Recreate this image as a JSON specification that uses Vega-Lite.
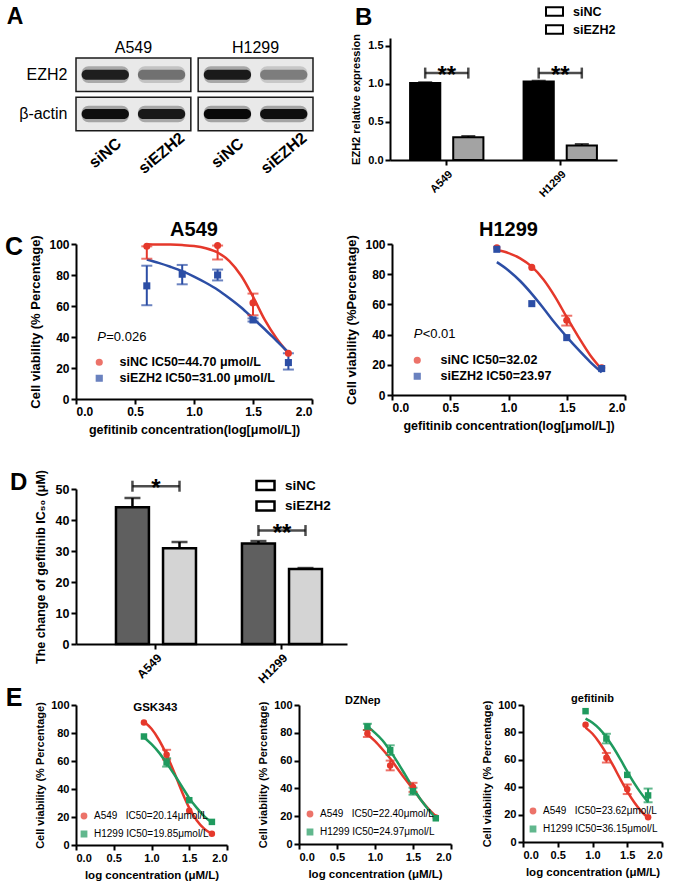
{
"$schema":"https://vega.github.io/schema/vega-lite/v6.json",
"background":"white",
"padding":{"left":5,"top":2,"right":2,"bottom":0},
"config":{
 "font":"Liberation Sans",
 "view":{"stroke":null},
 "axis":{"domainColor":"#000","domainWidth":2,"tickColor":"#000","tickWidth":2,"tickSize":5,"labelColor":"#000","labelFontWeight":"bold","titleColor":"#000","titleFontWeight":"bold","grid":false,"labelOverlap":false},
 "legend":{"labelColor":"#000","labelLimit":400},
 "title":{"color":"#000"}
},
"datasets":{
 "blot":[
  {"cell":"A549","lane":"siNC","protein":"EZH2","intensity":0.92},
  {"cell":"A549","lane":"siEZH2","protein":"EZH2","intensity":0.5},
  {"cell":"H1299","lane":"siNC","protein":"EZH2","intensity":0.94},
  {"cell":"H1299","lane":"siEZH2","protein":"EZH2","intensity":0.45},
  {"cell":"A549","lane":"siNC","protein":"β-actin","intensity":0.98},
  {"cell":"A549","lane":"siEZH2","protein":"β-actin","intensity":0.95},
  {"cell":"H1299","lane":"siNC","protein":"β-actin","intensity":1.0},
  {"cell":"H1299","lane":"siEZH2","protein":"β-actin","intensity":0.98}
 ],
 "bexp":[
  {"cell":"A549","group":"siNC","value":1.01,"hi":1.02},
  {"cell":"A549","group":"siEZH2","value":0.30,"hi":0.315},
  {"cell":"H1299","group":"siNC","value":1.03,"hi":1.04},
  {"cell":"H1299","group":"siEZH2","value":0.19,"hi":0.21}
 ],
 "bsig":[
  {"cell":"A549","group":"siNC","level":1.14,"star":"**"},
  {"cell":"A549","group":"siEZH2","level":1.14,"star":"**"},
  {"cell":"H1299","group":"siNC","level":1.14,"star":"**"},
  {"cell":"H1299","group":"siEZH2","level":1.14,"star":"**"}
 ],
 "dbar":[
  {"cell":"A549","group":"siNC","value":44.1,"hi":47.1},
  {"cell":"A549","group":"siEZH2","value":30.9,"hi":32.9},
  {"cell":"H1299","group":"siNC","value":32.4,"hi":33.2},
  {"cell":"H1299","group":"siEZH2","value":24.2,"hi":24.5}
 ],
 "dsig":[
  {"cell":"A549","group":"siNC","level":50.9,"star":"*"},
  {"cell":"A549","group":"siEZH2","level":50.9,"star":"*"},
  {"cell":"H1299","group":"siNC","level":36.6,"star":"**"},
  {"cell":"H1299","group":"siEZH2","level":36.6,"star":"**"}
 ],
 "points":[
  {"panel":"C1","series":"siNC IC50=44.70 μmol/L","x":0.6,"y":98.5,"lo":90.5,"hi":98.5},
  {"panel":"C1","series":"siNC IC50=44.70 μmol/L","x":1.2,"y":99,"lo":90,"hi":99},
  {"panel":"C1","series":"siNC IC50=44.70 μmol/L","x":1.5,"y":62,"lo":54,"hi":68},
  {"panel":"C1","series":"siNC IC50=44.70 μmol/L","x":1.8,"y":29.5},
  {"panel":"C1","series":"siEZH2 IC50=31.00 μmol/L","x":0.6,"y":73,"lo":60.5,"hi":86},
  {"panel":"C1","series":"siEZH2 IC50=31.00 μmol/L","x":0.9,"y":80.5,"lo":74,"hi":86.5},
  {"panel":"C1","series":"siEZH2 IC50=31.00 μmol/L","x":1.2,"y":80,"lo":76.5,"hi":83.5},
  {"panel":"C1","series":"siEZH2 IC50=31.00 μmol/L","x":1.5,"y":51,"lo":50,"hi":52},
  {"panel":"C1","series":"siEZH2 IC50=31.00 μmol/L","x":1.8,"y":23.5,"lo":19,"hi":29.5},
  {"panel":"C2","series":"siNC IC50=32.02","x":0.9,"y":97.5},
  {"panel":"C2","series":"siNC IC50=32.02","x":1.2,"y":84.5},
  {"panel":"C2","series":"siNC IC50=32.02","x":1.5,"y":49.5,"lo":46,"hi":52.5},
  {"panel":"C2","series":"siNC IC50=32.02","x":1.8,"y":18},
  {"panel":"C2","series":"siEZH2 IC50=23.97","x":0.9,"y":96.5},
  {"panel":"C2","series":"siEZH2 IC50=23.97","x":1.2,"y":60.5},
  {"panel":"C2","series":"siEZH2 IC50=23.97","x":1.5,"y":38},
  {"panel":"C2","series":"siEZH2 IC50=23.97","x":1.8,"y":17.5},
  {"panel":"E1","series":"A549\u00a0\u00a0\u00a0IC50=20.14μmol/L","x":0.9,"y":87.5},
  {"panel":"E1","series":"A549\u00a0\u00a0\u00a0IC50=20.14μmol/L","x":1.2,"y":64.5,"lo":61,"hi":68},
  {"panel":"E1","series":"A549\u00a0\u00a0\u00a0IC50=20.14μmol/L","x":1.5,"y":24.5},
  {"panel":"E1","series":"A549\u00a0\u00a0\u00a0IC50=20.14μmol/L","x":1.8,"y":8},
  {"panel":"E1","series":"H1299 IC50=19.85μmol/L","x":0.9,"y":77.5},
  {"panel":"E1","series":"H1299 IC50=19.85μmol/L","x":1.2,"y":59,"lo":56,"hi":62},
  {"panel":"E1","series":"H1299 IC50=19.85μmol/L","x":1.5,"y":32},
  {"panel":"E1","series":"H1299 IC50=19.85μmol/L","x":1.8,"y":16.5},
  {"panel":"E2","series":"A549\u00a0\u00a0\u00a0IC50=22.40μmol/L","x":0.9,"y":79.5,"lo":77,"hi":82},
  {"panel":"E2","series":"A549\u00a0\u00a0\u00a0IC50=22.40μmol/L","x":1.2,"y":56.5,"lo":53,"hi":60},
  {"panel":"E2","series":"A549\u00a0\u00a0\u00a0IC50=22.40μmol/L","x":1.5,"y":41,"lo":37.5,"hi":44},
  {"panel":"E2","series":"A549\u00a0\u00a0\u00a0IC50=22.40μmol/L","x":1.8,"y":19},
  {"panel":"E2","series":"H1299 IC50=24.97μmol/L","x":0.9,"y":84.5,"lo":82,"hi":86.5},
  {"panel":"E2","series":"H1299 IC50=24.97μmol/L","x":1.2,"y":67.5,"lo":64,"hi":71},
  {"panel":"E2","series":"H1299 IC50=24.97μmol/L","x":1.5,"y":38,"lo":35.5,"hi":40.5},
  {"panel":"E2","series":"H1299 IC50=24.97μmol/L","x":1.8,"y":18.5},
  {"panel":"E3","series":"A549\u00a0\u00a0\u00a0IC50=23.62μmol/L","x":0.9,"y":85.5},
  {"panel":"E3","series":"A549\u00a0\u00a0\u00a0IC50=23.62μmol/L","x":1.2,"y":61.5,"lo":58,"hi":65},
  {"panel":"E3","series":"A549\u00a0\u00a0\u00a0IC50=23.62μmol/L","x":1.5,"y":38.5,"lo":35,"hi":42},
  {"panel":"E3","series":"A549\u00a0\u00a0\u00a0IC50=23.62μmol/L","x":1.8,"y":18},
  {"panel":"E3","series":"H1299 IC50=36.15μmol/L","x":0.9,"y":95.5},
  {"panel":"E3","series":"H1299 IC50=36.15μmol/L","x":1.2,"y":75.5,"lo":72,"hi":79},
  {"panel":"E3","series":"H1299 IC50=36.15μmol/L","x":1.5,"y":49},
  {"panel":"E3","series":"H1299 IC50=36.15μmol/L","x":1.8,"y":34,"lo":29,"hi":39}
 ],
 "curves":[
  {"panel":"C1","series":"siNC IC50=44.70 μmol/L","x":0.6,"y":99.8},
  {"panel":"C1","series":"siNC IC50=44.70 μmol/L","x":0.7,"y":99.7},
  {"panel":"C1","series":"siNC IC50=44.70 μmol/L","x":0.8,"y":99.6},
  {"panel":"C1","series":"siNC IC50=44.70 μmol/L","x":0.9,"y":99.3},
  {"panel":"C1","series":"siNC IC50=44.70 μmol/L","x":1.0,"y":98.7},
  {"panel":"C1","series":"siNC IC50=44.70 μmol/L","x":1.1,"y":97.3},
  {"panel":"C1","series":"siNC IC50=44.70 μmol/L","x":1.2,"y":94.5},
  {"panel":"C1","series":"siNC IC50=44.70 μmol/L","x":1.3,"y":89},
  {"panel":"C1","series":"siNC IC50=44.70 μmol/L","x":1.4,"y":79.5},
  {"panel":"C1","series":"siNC IC50=44.70 μmol/L","x":1.5,"y":66},
  {"panel":"C1","series":"siNC IC50=44.70 μmol/L","x":1.6,"y":51},
  {"panel":"C1","series":"siNC IC50=44.70 μmol/L","x":1.7,"y":39},
  {"panel":"C1","series":"siNC IC50=44.70 μmol/L","x":1.8,"y":29.5},
  {"panel":"C1","series":"siEZH2 IC50=31.00 μmol/L","x":0.6,"y":90},
  {"panel":"C1","series":"siEZH2 IC50=31.00 μmol/L","x":0.7,"y":87.8},
  {"panel":"C1","series":"siEZH2 IC50=31.00 μmol/L","x":0.8,"y":85.3},
  {"panel":"C1","series":"siEZH2 IC50=31.00 μmol/L","x":0.9,"y":82.5},
  {"panel":"C1","series":"siEZH2 IC50=31.00 μmol/L","x":1.0,"y":79},
  {"panel":"C1","series":"siEZH2 IC50=31.00 μmol/L","x":1.1,"y":75},
  {"panel":"C1","series":"siEZH2 IC50=31.00 μmol/L","x":1.2,"y":70.5},
  {"panel":"C1","series":"siEZH2 IC50=31.00 μmol/L","x":1.3,"y":65},
  {"panel":"C1","series":"siEZH2 IC50=31.00 μmol/L","x":1.4,"y":59},
  {"panel":"C1","series":"siEZH2 IC50=31.00 μmol/L","x":1.5,"y":52},
  {"panel":"C1","series":"siEZH2 IC50=31.00 μmol/L","x":1.6,"y":45},
  {"panel":"C1","series":"siEZH2 IC50=31.00 μmol/L","x":1.7,"y":37.5},
  {"panel":"C1","series":"siEZH2 IC50=31.00 μmol/L","x":1.8,"y":30},
  {"panel":"C2","series":"siNC IC50=32.02","x":0.9,"y":96},
  {"panel":"C2","series":"siNC IC50=32.02","x":1.0,"y":94},
  {"panel":"C2","series":"siNC IC50=32.02","x":1.1,"y":90.5},
  {"panel":"C2","series":"siNC IC50=32.02","x":1.2,"y":85},
  {"panel":"C2","series":"siNC IC50=32.02","x":1.3,"y":76.5},
  {"panel":"C2","series":"siNC IC50=32.02","x":1.4,"y":65},
  {"panel":"C2","series":"siNC IC50=32.02","x":1.5,"y":51.5},
  {"panel":"C2","series":"siNC IC50=32.02","x":1.6,"y":38.5},
  {"panel":"C2","series":"siNC IC50=32.02","x":1.7,"y":26.5},
  {"panel":"C2","series":"siNC IC50=32.02","x":1.8,"y":17},
  {"panel":"C2","series":"siEZH2 IC50=23.97","x":0.9,"y":88},
  {"panel":"C2","series":"siEZH2 IC50=23.97","x":1.0,"y":82.5},
  {"panel":"C2","series":"siEZH2 IC50=23.97","x":1.1,"y":75.5},
  {"panel":"C2","series":"siEZH2 IC50=23.97","x":1.2,"y":67},
  {"panel":"C2","series":"siEZH2 IC50=23.97","x":1.3,"y":57.5},
  {"panel":"C2","series":"siEZH2 IC50=23.97","x":1.4,"y":47.5},
  {"panel":"C2","series":"siEZH2 IC50=23.97","x":1.5,"y":38.5},
  {"panel":"C2","series":"siEZH2 IC50=23.97","x":1.6,"y":30},
  {"panel":"C2","series":"siEZH2 IC50=23.97","x":1.7,"y":22},
  {"panel":"C2","series":"siEZH2 IC50=23.97","x":1.8,"y":15},
  {"panel":"E1","series":"A549\u00a0\u00a0\u00a0IC50=20.14μmol/L","x":0.9,"y":88},
  {"panel":"E1","series":"A549\u00a0\u00a0\u00a0IC50=20.14μmol/L","x":1.0,"y":83},
  {"panel":"E1","series":"A549\u00a0\u00a0\u00a0IC50=20.14μmol/L","x":1.1,"y":75},
  {"panel":"E1","series":"A549\u00a0\u00a0\u00a0IC50=20.14μmol/L","x":1.2,"y":64.5},
  {"panel":"E1","series":"A549\u00a0\u00a0\u00a0IC50=20.14μmol/L","x":1.3,"y":52},
  {"panel":"E1","series":"A549\u00a0\u00a0\u00a0IC50=20.14μmol/L","x":1.4,"y":38.5},
  {"panel":"E1","series":"A549\u00a0\u00a0\u00a0IC50=20.14μmol/L","x":1.5,"y":26.5},
  {"panel":"E1","series":"A549\u00a0\u00a0\u00a0IC50=20.14μmol/L","x":1.6,"y":17.5},
  {"panel":"E1","series":"A549\u00a0\u00a0\u00a0IC50=20.14μmol/L","x":1.7,"y":11.5},
  {"panel":"E1","series":"A549\u00a0\u00a0\u00a0IC50=20.14μmol/L","x":1.8,"y":8},
  {"panel":"E1","series":"H1299 IC50=19.85μmol/L","x":0.9,"y":77},
  {"panel":"E1","series":"H1299 IC50=19.85μmol/L","x":1.0,"y":72},
  {"panel":"E1","series":"H1299 IC50=19.85μmol/L","x":1.1,"y":66},
  {"panel":"E1","series":"H1299 IC50=19.85μmol/L","x":1.2,"y":58.5},
  {"panel":"E1","series":"H1299 IC50=19.85μmol/L","x":1.3,"y":50.5},
  {"panel":"E1","series":"H1299 IC50=19.85μmol/L","x":1.4,"y":42},
  {"panel":"E1","series":"H1299 IC50=19.85μmol/L","x":1.5,"y":33.5},
  {"panel":"E1","series":"H1299 IC50=19.85μmol/L","x":1.6,"y":26.5},
  {"panel":"E1","series":"H1299 IC50=19.85μmol/L","x":1.7,"y":20.5},
  {"panel":"E1","series":"H1299 IC50=19.85μmol/L","x":1.8,"y":16},
  {"panel":"E2","series":"A549\u00a0\u00a0\u00a0IC50=22.40μmol/L","x":0.9,"y":79},
  {"panel":"E2","series":"A549\u00a0\u00a0\u00a0IC50=22.40μmol/L","x":1.0,"y":74},
  {"panel":"E2","series":"A549\u00a0\u00a0\u00a0IC50=22.40μmol/L","x":1.1,"y":68},
  {"panel":"E2","series":"A549\u00a0\u00a0\u00a0IC50=22.40μmol/L","x":1.2,"y":61.5},
  {"panel":"E2","series":"A549\u00a0\u00a0\u00a0IC50=22.40μmol/L","x":1.3,"y":54},
  {"panel":"E2","series":"A549\u00a0\u00a0\u00a0IC50=22.40μmol/L","x":1.4,"y":46.5},
  {"panel":"E2","series":"A549\u00a0\u00a0\u00a0IC50=22.40μmol/L","x":1.5,"y":39.5},
  {"panel":"E2","series":"A549\u00a0\u00a0\u00a0IC50=22.40μmol/L","x":1.6,"y":32},
  {"panel":"E2","series":"A549\u00a0\u00a0\u00a0IC50=22.40μmol/L","x":1.7,"y":25.5},
  {"panel":"E2","series":"A549\u00a0\u00a0\u00a0IC50=22.40μmol/L","x":1.8,"y":20},
  {"panel":"E2","series":"H1299 IC50=24.97μmol/L","x":0.9,"y":84.5},
  {"panel":"E2","series":"H1299 IC50=24.97μmol/L","x":1.0,"y":80},
  {"panel":"E2","series":"H1299 IC50=24.97μmol/L","x":1.1,"y":74.5},
  {"panel":"E2","series":"H1299 IC50=24.97μmol/L","x":1.2,"y":67},
  {"panel":"E2","series":"H1299 IC50=24.97μmol/L","x":1.3,"y":58.5},
  {"panel":"E2","series":"H1299 IC50=24.97μmol/L","x":1.4,"y":49.5},
  {"panel":"E2","series":"H1299 IC50=24.97μmol/L","x":1.5,"y":40.5},
  {"panel":"E2","series":"H1299 IC50=24.97μmol/L","x":1.6,"y":32},
  {"panel":"E2","series":"H1299 IC50=24.97μmol/L","x":1.7,"y":25},
  {"panel":"E2","series":"H1299 IC50=24.97μmol/L","x":1.8,"y":18.5},
  {"panel":"E3","series":"A549\u00a0\u00a0\u00a0IC50=23.62μmol/L","x":0.9,"y":83.5},
  {"panel":"E3","series":"A549\u00a0\u00a0\u00a0IC50=23.62μmol/L","x":1.0,"y":79},
  {"panel":"E3","series":"A549\u00a0\u00a0\u00a0IC50=23.62μmol/L","x":1.1,"y":72.5},
  {"panel":"E3","series":"A549\u00a0\u00a0\u00a0IC50=23.62μmol/L","x":1.2,"y":64.5},
  {"panel":"E3","series":"A549\u00a0\u00a0\u00a0IC50=23.62μmol/L","x":1.3,"y":55.5},
  {"panel":"E3","series":"A549\u00a0\u00a0\u00a0IC50=23.62μmol/L","x":1.4,"y":46},
  {"panel":"E3","series":"A549\u00a0\u00a0\u00a0IC50=23.62μmol/L","x":1.5,"y":37},
  {"panel":"E3","series":"A549\u00a0\u00a0\u00a0IC50=23.62μmol/L","x":1.6,"y":29},
  {"panel":"E3","series":"A549\u00a0\u00a0\u00a0IC50=23.62μmol/L","x":1.7,"y":22.5},
  {"panel":"E3","series":"A549\u00a0\u00a0\u00a0IC50=23.62μmol/L","x":1.8,"y":17.5},
  {"panel":"E3","series":"H1299 IC50=36.15μmol/L","x":0.9,"y":90},
  {"panel":"E3","series":"H1299 IC50=36.15μmol/L","x":1.0,"y":87},
  {"panel":"E3","series":"H1299 IC50=36.15μmol/L","x":1.1,"y":82.5},
  {"panel":"E3","series":"H1299 IC50=36.15μmol/L","x":1.2,"y":76.5},
  {"panel":"E3","series":"H1299 IC50=36.15μmol/L","x":1.3,"y":69},
  {"panel":"E3","series":"H1299 IC50=36.15μmol/L","x":1.4,"y":60.5},
  {"panel":"E3","series":"H1299 IC50=36.15μmol/L","x":1.5,"y":51.5},
  {"panel":"E3","series":"H1299 IC50=36.15μmol/L","x":1.6,"y":43},
  {"panel":"E3","series":"H1299 IC50=36.15μmol/L","x":1.7,"y":35.5},
  {"panel":"E3","series":"H1299 IC50=36.15μmol/L","x":1.8,"y":29}
 ]
},
"spacing":33,
"resolve":{"scale":{"x":"independent","y":"independent","color":"independent","fill":"independent","stroke":"independent","shape":"independent","xOffset":"independent"},"axis":{"x":"independent","y":"independent"},"legend":{"color":"independent","fill":"independent","stroke":"independent","shape":"independent"}},
"vconcat":[
 {"spacing":20,
  "resolve":{"scale":{"x":"independent","y":"independent","color":"independent","fill":"independent","stroke":"independent","shape":"independent","xOffset":"independent"},"axis":{"x":"independent","y":"independent"},"legend":{"color":"independent","fill":"independent","stroke":"independent","shape":"independent"}},
  "vconcat":[
  {"spacing":36,
   "resolve":{"scale":{"x":"independent","y":"independent","color":"independent","fill":"independent","stroke":"independent","shape":"independent","xOffset":"independent"},"axis":{"x":"independent","y":"independent"},"legend":{"color":"independent","fill":"independent","stroke":"independent","shape":"independent"}},
   "hconcat":[
   {"width":237,"height":132,
    "title":{"text":"A","anchor":"start","frame":"bounds","fontSize":23,"fontWeight":"bold","offset":9,"dx":-12},
    "data":{"name":"blot"},
    "encoding":{
     "x":{"field":"cell","type":"nominal","sort":["A549","H1299"],"scale":{"paddingInner":0.06,"paddingOuter":0},"axis":{"orient":"top","offset":-20,"title":null,"domain":false,"ticks":false,"labelAngle":0,"labelFontSize":16,"labelFontWeight":"normal","labelPadding":3}},
     "y":{"field":"protein","type":"nominal","scale":{"domain":["EZH2","β-actin","lanes"],"paddingInner":0.15,"paddingOuter":0.2545,"align":1},"axis":{"title":null,"domain":false,"ticks":false,"labelFontSize":16,"labelFontWeight":"normal","labelPadding":9,"labelExpr":"datum.value === 'lanes' ? '' : datum.value"}}
    },
    "layer":[
     {"transform":[{"filter":"datum.lane === 'siNC'"}],"mark":{"type":"rect","fill":"#e9e9e9","stroke":"#1a1a1a","strokeWidth":1.5}},
     {"mark":{"type":"rect","height":{"band":0.5},"opacity":0.3,"cornerRadius":7},
      "encoding":{"xOffset":{"field":"lane","type":"nominal","sort":["siNC","siEZH2"],"scale":{"paddingInner":0.16,"paddingOuter":0.1}},
       "color":{"field":"intensity","type":"quantitative","scale":{"domain":[0,1],"range":["#e9e9e9","#000000"]},"legend":null}}},
     {"mark":{"type":"rect","height":{"band":0.3},"opacity":0.95,"cornerRadius":5},
      "encoding":{"xOffset":{"field":"lane","type":"nominal","sort":["siNC","siEZH2"]},
       "color":{"field":"intensity","type":"quantitative"}}},
     {"transform":[{"filter":"datum.protein === 'β-actin'"}],
      "mark":{"type":"text","angle":-40,"fontSize":16,"fontWeight":"bold","align":"center","baseline":"middle"},
      "encoding":{"xOffset":{"field":"lane","type":"nominal","sort":["siNC","siEZH2"]},"y":{"datum":"lanes"},"text":{"field":"lane"}}}
    ]},
   {"width":227,"height":122,
    "data":{"name":"bexp"},
    "layer":[
     {"mark":{"type":"bar","strokeWidth":2},
      "encoding":{
       "x":{"field":"cell","type":"nominal","sort":["A549","H1299"],"scale":{"paddingInner":0.354,"paddingOuter":0.177},"axis":{"title":null,"labelAngle":-45,"labelFontSize":11,"labelPadding":3}},
       "xOffset":{"field":"group","type":"nominal","sort":["siNC","siEZH2"],"scale":{"domain":["siNC","siEZH2"],"paddingInner":0.3,"paddingOuter":0}},
       "y":{"field":"value","type":"quantitative","scale":{"domain":[0,1.5]},"axis":{"title":"EZH2 relative expression","values":[0,0.5,1,1.5],"tickCount":12,"format":".1f","labelOverlap":false,"labelFontSize":11,"titleFontSize":11,"titlePadding":6}},
       "fill":{"field":"group","type":"nominal","sort":["siNC","siEZH2"],"scale":{"range":["#000000","#a3a3a3"]},"legend":null},
       "stroke":{"field":"group","type":"nominal","scale":{"domain":["siNC","siEZH2"],"range":["#000000","#000000"]},
        "legend":{"orient":"none","legendX":155,"legendY":-36,"title":null,"symbolType":"M-1,-0.5H1V0.5H-1Z","symbolSize":289,"symbolFillColor":"#ffffff","symbolStrokeWidth":2,"labelFontSize":12.5,"labelFontWeight":"bold","labelOffset":9,"rowPadding":0,"padding":0}}
      }},
     {"mark":{"type":"rule","strokeWidth":2,"color":"#000"},
      "encoding":{"x":{"field":"cell","type":"nominal"},"xOffset":{"field":"group","type":"nominal"},"y":{"field":"value","type":"quantitative"},"y2":{"field":"hi"}}},
     {"mark":{"type":"tick","orient":"horizontal","size":14,"thickness":2,"color":"#000"},
      "encoding":{"x":{"field":"cell","type":"nominal"},"xOffset":{"field":"group","type":"nominal"},"y":{"field":"hi","type":"quantitative"}}},
     {"data":{"name":"bsig"},"transform":[{"filter":"datum.group === 'siNC'"}],
      "mark":{"type":"tick","orient":"horizontal","size":43,"thickness":2.5,"color":"#000"},
      "encoding":{"x":{"field":"cell","type":"nominal"},"y":{"field":"level","type":"quantitative"}}},
     {"data":{"name":"bsig"},
      "mark":{"type":"tick","orient":"vertical","size":11,"thickness":2.5,"color":"#000"},
      "encoding":{"x":{"field":"cell","type":"nominal"},"xOffset":{"field":"group","type":"nominal"},"y":{"field":"level","type":"quantitative"}}},
     {"data":{"name":"bsig"},"transform":[{"filter":"datum.group === 'siNC'"}],
      "mark":{"type":"text","fontSize":24,"fontWeight":"bold","align":"center","baseline":"alphabetic","dy":10,"color":"#000"},
      "encoding":{"x":{"field":"cell","type":"nominal"},"y":{"field":"level","type":"quantitative"},"text":{"field":"star"}}},
     {"data":{"values":[{}]},
      "mark":{"type":"text","fontSize":24,"fontWeight":"bold","align":"center","baseline":"middle","dx":-83,"color":"#000"},
      "encoding":{"x":{"datum":"A549"},"y":{"datum":1.86},"text":{"value":"B"}}}
    ]}
  ]},
  {"spacing":32,
   "resolve":{"scale":{"x":"independent","y":"independent","color":"independent","fill":"independent","shape":"independent"},"axis":{"x":"independent","y":"independent"},"legend":{"color":"independent","fill":"independent","shape":"independent"}},
   "hconcat":[
   {"width":236,"height":155,
    "title":{"text":"A549","fontSize":20,"fontWeight":"bold","offset":-5},
    "layer":[
     {"data":{"name":"curves"},"transform":[{"filter":"datum.panel === 'C1'"}],
      "mark":{"type":"line","interpolate":"monotone","strokeWidth":2.5},
      "encoding":{
       "x":{"field":"x","type":"quantitative","scale":{"domain":[0,2],"nice":false},"axis":{"title":"gefitinib concentration(log[μmol/L])","values":[0,0.5,1,1.5,2],"tickCount":12,"format":".1f","labelOverlap":false,"labelFontSize":12,"titleFontSize":12.5,"titlePadding":6}},
       "y":{"field":"y","type":"quantitative","scale":{"domain":[0,100]},"axis":{"title":"Cell viability (% Percentage)","values":[0,20,40,60,80,100],"tickCount":12,"labelOverlap":false,"labelFontSize":12,"titleFontSize":13,"titlePadding":6}},
       "color":{"field":"series","type":"nominal","scale":{"domain":["siNC IC50=44.70 μmol/L","siEZH2 IC50=31.00 μmol/L"],"range":["#e5382b","#2c4ea5"]},
        "legend":{"orient":"none","legendX":17,"legendY":112,"title":null,"labelFontSize":12.5,"labelFontWeight":"bold","symbolSize":32,"labelOffset":14,"rowPadding":3,"padding":0}}}},
     {"data":{"name":"points"},"transform":[{"filter":"datum.panel === 'C1' && isValid(datum.lo)"}],
      "mark":{"type":"rule","strokeWidth":2},
      "encoding":{"x":{"field":"x","type":"quantitative"},"y":{"field":"lo","type":"quantitative"},"y2":{"field":"hi"},"color":{"field":"series","type":"nominal"}}},
     {"data":{"name":"points"},"transform":[{"filter":"datum.panel === 'C1' && isValid(datum.lo)"}],
      "mark":{"type":"tick","orient":"horizontal","size":11,"thickness":2},
      "encoding":{"x":{"field":"x","type":"quantitative"},"y":{"field":"lo","type":"quantitative"},"color":{"field":"series","type":"nominal"}}},
     {"data":{"name":"points"},"transform":[{"filter":"datum.panel === 'C1' && isValid(datum.lo)"}],
      "mark":{"type":"tick","orient":"horizontal","size":11,"thickness":2},
      "encoding":{"x":{"field":"x","type":"quantitative"},"y":{"field":"hi","type":"quantitative"},"color":{"field":"series","type":"nominal"}}},
     {"data":{"name":"points"},"transform":[{"filter":"datum.panel === 'C1'"}],
      "mark":{"type":"point","filled":true,"size":50,"opacity":1},
      "encoding":{"x":{"field":"x","type":"quantitative"},"y":{"field":"y","type":"quantitative"},"color":{"field":"series","type":"nominal"},
       "shape":{"field":"series","type":"nominal","scale":{"domain":["siNC IC50=44.70 μmol/L","siEZH2 IC50=31.00 μmol/L"],"range":["circle","square"]},
        "legend":{"orient":"none","legendX":17,"legendY":112,"title":null,"labelFontSize":12.5,"labelFontWeight":"bold","symbolSize":32,"labelOffset":14,"rowPadding":3,"padding":0}}}},
     {"data":{"values":[{}]},"mark":{"type":"text","fontSize":13,"fontStyle":"italic","align":"left","baseline":"middle"},
      "encoding":{"x":{"datum":0.18},"y":{"datum":40},"text":{"value":"P"}}},
     {"data":{"values":[{}]},"mark":{"type":"text","fontSize":13,"align":"left","baseline":"middle","dx":9},
      "encoding":{"x":{"datum":0.18},"y":{"datum":40},"text":{"value":"=0.026"}}},
     {"data":{"values":[{}]},"mark":{"type":"text","fontSize":25,"fontWeight":"bold","align":"center","baseline":"middle"},
      "encoding":{"x":{"datum":-0.525},"y":{"datum":98},"text":{"value":"C"}}}
    ]},
   {"width":233,"height":151,
    "title":{"text":"H1299","fontSize":20,"fontWeight":"bold","offset":-5},
    "layer":[
     {"data":{"name":"curves"},"transform":[{"filter":"datum.panel === 'C2'"}],
      "mark":{"type":"line","interpolate":"monotone","strokeWidth":2.5},
      "encoding":{
       "x":{"field":"x","type":"quantitative","scale":{"domain":[0,2],"nice":false},"axis":{"title":"gefitinib concentration(log[μmol/L])","values":[0,0.5,1,1.5,2],"tickCount":12,"format":".1f","labelOverlap":false,"labelFontSize":12,"titleFontSize":12.5,"titlePadding":6}},
       "y":{"field":"y","type":"quantitative","scale":{"domain":[0,100]},"axis":{"title":"Cell viability (%Percentage)","values":[0,20,40,60,80,100],"tickCount":12,"labelOverlap":false,"labelFontSize":12,"titleFontSize":13,"titlePadding":6}},
       "color":{"field":"series","type":"nominal","scale":{"domain":["siNC IC50=32.02","siEZH2 IC50=23.97"],"range":["#e5382b","#2c4ea5"]},
        "legend":{"orient":"none","legendX":19,"legendY":110,"title":null,"labelFontSize":12.5,"labelFontWeight":"bold","symbolSize":32,"labelOffset":17,"rowPadding":3,"padding":0}}}},
     {"data":{"name":"points"},"transform":[{"filter":"datum.panel === 'C2' && isValid(datum.lo)"}],
      "mark":{"type":"rule","strokeWidth":2},
      "encoding":{"x":{"field":"x","type":"quantitative"},"y":{"field":"lo","type":"quantitative"},"y2":{"field":"hi"},"color":{"field":"series","type":"nominal"}}},
     {"data":{"name":"points"},"transform":[{"filter":"datum.panel === 'C2' && isValid(datum.lo)"}],
      "mark":{"type":"tick","orient":"horizontal","size":11,"thickness":2},
      "encoding":{"x":{"field":"x","type":"quantitative"},"y":{"field":"lo","type":"quantitative"},"color":{"field":"series","type":"nominal"}}},
     {"data":{"name":"points"},"transform":[{"filter":"datum.panel === 'C2' && isValid(datum.lo)"}],
      "mark":{"type":"tick","orient":"horizontal","size":11,"thickness":2},
      "encoding":{"x":{"field":"x","type":"quantitative"},"y":{"field":"hi","type":"quantitative"},"color":{"field":"series","type":"nominal"}}},
     {"data":{"name":"points"},"transform":[{"filter":"datum.panel === 'C2'"}],
      "mark":{"type":"point","filled":true,"size":50,"opacity":1},
      "encoding":{"x":{"field":"x","type":"quantitative"},"y":{"field":"y","type":"quantitative"},"color":{"field":"series","type":"nominal"},
       "shape":{"field":"series","type":"nominal","scale":{"domain":["siNC IC50=32.02","siEZH2 IC50=23.97"],"range":["circle","square"]},
        "legend":{"orient":"none","legendX":19,"legendY":110,"title":null,"labelFontSize":12.5,"labelFontWeight":"bold","symbolSize":32,"labelOffset":17,"rowPadding":3,"padding":0}}}},
     {"data":{"values":[{}]},"mark":{"type":"text","fontSize":13,"fontStyle":"italic","align":"left","baseline":"middle"},
      "encoding":{"x":{"datum":0.186},"y":{"datum":40.5},"text":{"value":"P"}}},
     {"data":{"values":[{}]},"mark":{"type":"text","fontSize":13,"align":"left","baseline":"middle","dx":9},
      "encoding":{"x":{"datum":0.186},"y":{"datum":40.5},"text":{"value":"<0.01"}}}
    ]}
  ]}
 ]},
 {"spacing":0,
  "resolve":{"scale":{"x":"independent","y":"independent","color":"independent","fill":"independent","stroke":"independent","shape":"independent","xOffset":"independent"},"axis":{"x":"independent","y":"independent"},"legend":{"color":"independent","fill":"independent","stroke":"independent","shape":"independent"}},
  "vconcat":[
  {"width":271,"height":155,
   "title":{"text":"D","anchor":"start","frame":"bounds","fontSize":24,"fontWeight":"bold","offset":-26,"dx":-24},
   "data":{"name":"dbar"},
   "layer":[
     {"mark":{"type":"bar","strokeWidth":2.5},
      "encoding":{
       "x":{"field":"cell","type":"nominal","sort":["A549","H1299"],"scale":{"paddingInner":0.365,"paddingOuter":0.258,"align":0.615},"axis":{"title":null,"labelAngle":-45,"labelFontSize":12,"labelPadding":3}},
       "xOffset":{"field":"group","type":"nominal","sort":["siNC","siEZH2"],"scale":{"domain":["siNC","siEZH2"],"paddingInner":0.3,"paddingOuter":0}},
       "y":{"field":"value","type":"quantitative","scale":{"domain":[0,50]},"axis":{"title":"The change of gefitinib IC₅₀ (μM)","values":[0,10,20,30,40,50],"tickCount":12,"labelOverlap":false,"labelFontSize":12.5,"titleFontSize":12.5,"titlePadding":8}},
       "fill":{"field":"group","type":"nominal","sort":["siNC","siEZH2"],"scale":{"range":["#5f5f5f","#d4d4d4"]},"legend":null},
       "stroke":{"field":"group","type":"nominal","scale":{"domain":["siNC","siEZH2"],"range":["#000000","#000000"]},
        "legend":{"orient":"none","legendX":179,"legendY":-14,"title":null,"symbolType":"M-1,-0.5H1V0.5H-1Z","symbolSize":324,"symbolFillColor":"#ffffff","symbolStrokeWidth":2.5,"labelFontSize":13.5,"labelFontWeight":"bold","labelOffset":9,"rowPadding":0.5,"padding":0}}
      }},
     {"mark":{"type":"rule","strokeWidth":2.5,"color":"#000"},
      "encoding":{"x":{"field":"cell","type":"nominal"},"xOffset":{"field":"group","type":"nominal"},"y":{"field":"value","type":"quantitative"},"y2":{"field":"hi"}}},
     {"mark":{"type":"tick","orient":"horizontal","size":16,"thickness":2.5,"color":"#000"},
      "encoding":{"x":{"field":"cell","type":"nominal"},"xOffset":{"field":"group","type":"nominal"},"y":{"field":"hi","type":"quantitative"}}},
     {"data":{"name":"dsig"},"transform":[{"filter":"datum.group === 'siNC'"}],
      "mark":{"type":"tick","orient":"horizontal","size":47,"thickness":2.5,"color":"#000"},
      "encoding":{"x":{"field":"cell","type":"nominal"},"y":{"field":"level","type":"quantitative"}}},
     {"data":{"name":"dsig"},
      "mark":{"type":"tick","orient":"vertical","size":11,"thickness":2.5,"color":"#000"},
      "encoding":{"x":{"field":"cell","type":"nominal"},"xOffset":{"field":"group","type":"nominal"},"y":{"field":"level","type":"quantitative"}}},
     {"data":{"name":"dsig"},"transform":[{"filter":"datum.group === 'siNC'"}],
      "mark":{"type":"text","fontSize":24,"fontWeight":"bold","align":"center","baseline":"alphabetic","dy":10,"color":"#000"},
      "encoding":{"x":{"field":"cell","type":"nominal"},"y":{"field":"level","type":"quantitative"},"text":{"field":"star"}}}
   ]},
  {"spacing":29,
   "resolve":{"scale":{"x":"independent","y":"independent","color":"independent","fill":"independent","shape":"independent"},"axis":{"x":"independent","y":"independent"},"legend":{"color":"independent","fill":"independent","shape":"independent"}},
   "hconcat":[
   {"width":151,"height":140,
    "layer":[
     {"data":{"name":"curves"},"transform":[{"filter":"datum.panel === 'E1'"}],
      "mark":{"type":"line","interpolate":"monotone","strokeWidth":2.5},
      "encoding":{
       "x":{"field":"x","type":"quantitative","scale":{"domain":[0,2],"nice":false},"axis":{"title":"log concentration (μM/L)","values":[0,0.5,1,1.5,2],"tickCount":12,"format":".1f","labelOverlap":false,"labelFontSize":11,"titleFontSize":11.5,"titlePadding":6}},
       "y":{"field":"y","type":"quantitative","scale":{"domain":[0,100]},"axis":{"title":"Cell viability (%  Percentage)","values":[0,20,40,60,80,100],"tickCount":12,"labelOverlap":false,"labelFontSize":11,"titleFontSize":11,"titlePadding":5}},
       "color":{"field":"series","type":"nominal","scale":{"domain":["A549\u00a0\u00a0\u00a0IC50=20.14μmol/L","H1299 IC50=19.85μmol/L"],"range":["#e5382b","#1f9a5e"]},
        "legend":{"orient":"none","legendX":3,"legendY":106,"title":null,"labelFontSize":10,"symbolSize":28,"labelOffset":5,"rowPadding":6,"padding":0}}}},
     {"data":{"name":"points"},"transform":[{"filter":"datum.panel === 'E1' && isValid(datum.lo)"}],
      "mark":{"type":"rule","strokeWidth":2},
      "encoding":{"x":{"field":"x","type":"quantitative"},"y":{"field":"lo","type":"quantitative"},"y2":{"field":"hi"},"color":{"field":"series","type":"nominal"}}},
     {"data":{"name":"points"},"transform":[{"filter":"datum.panel === 'E1' && isValid(datum.lo)"}],
      "mark":{"type":"tick","orient":"horizontal","size":9,"thickness":2},
      "encoding":{"x":{"field":"x","type":"quantitative"},"y":{"field":"lo","type":"quantitative"},"color":{"field":"series","type":"nominal"}}},
     {"data":{"name":"points"},"transform":[{"filter":"datum.panel === 'E1' && isValid(datum.lo)"}],
      "mark":{"type":"tick","orient":"horizontal","size":9,"thickness":2},
      "encoding":{"x":{"field":"x","type":"quantitative"},"y":{"field":"hi","type":"quantitative"},"color":{"field":"series","type":"nominal"}}},
     {"data":{"name":"points"},"transform":[{"filter":"datum.panel === 'E1'"}],
      "mark":{"type":"point","filled":true,"size":42,"opacity":1},
      "encoding":{"x":{"field":"x","type":"quantitative"},"y":{"field":"y","type":"quantitative"},"color":{"field":"series","type":"nominal"},
       "shape":{"field":"series","type":"nominal","scale":{"domain":["A549\u00a0\u00a0\u00a0IC50=20.14μmol/L","H1299 IC50=19.85μmol/L"],"range":["circle","square"]},
        "legend":{"orient":"none","legendX":3,"legendY":106,"title":null,"labelFontSize":10,"symbolSize":28,"labelOffset":5,"rowPadding":6,"padding":0}}}},
     {"data":{"values":[{}]},"mark":{"type":"text","fontSize":11.5,"fontWeight":"bold","align":"center","baseline":"middle"},
      "encoding":{"x":{"datum":1.05},"y":{"datum":98},"text":{"value":"GSK343"}}},
     {"data":{"values":[{}]},"mark":{"type":"text","fontSize":25,"fontWeight":"bold","align":"center","baseline":"middle"},
      "encoding":{"x":{"datum":-0.82},"y":{"datum":105},"text":{"value":"E"}}}
    ]},
   {"width":152,"height":139,
    "layer":[
     {"data":{"name":"curves"},"transform":[{"filter":"datum.panel === 'E2'"}],
      "mark":{"type":"line","interpolate":"monotone","strokeWidth":2.5},
      "encoding":{
       "x":{"field":"x","type":"quantitative","scale":{"domain":[0,2],"nice":false},"axis":{"title":"log concentration (μM/L)","values":[0,0.5,1,1.5,2],"tickCount":12,"format":".1f","labelOverlap":false,"labelFontSize":11,"titleFontSize":11.5,"titlePadding":6}},
       "y":{"field":"y","type":"quantitative","scale":{"domain":[0,100]},"axis":{"title":"Cell viability (%  Percentage)","values":[0,20,40,60,80,100],"tickCount":12,"labelOverlap":false,"labelFontSize":11,"titleFontSize":11,"titlePadding":5}},
       "color":{"field":"series","type":"nominal","scale":{"domain":["A549\u00a0\u00a0\u00a0IC50=22.40μmol/L","H1299 IC50=24.97μmol/L"],"range":["#e5382b","#1f9a5e"]},
        "legend":{"orient":"none","legendX":6,"legendY":104,"title":null,"labelFontSize":10,"symbolSize":28,"labelOffset":5,"rowPadding":6,"padding":0}}}},
     {"data":{"name":"points"},"transform":[{"filter":"datum.panel === 'E2' && isValid(datum.lo)"}],
      "mark":{"type":"rule","strokeWidth":2},
      "encoding":{"x":{"field":"x","type":"quantitative"},"y":{"field":"lo","type":"quantitative"},"y2":{"field":"hi"},"color":{"field":"series","type":"nominal"}}},
     {"data":{"name":"points"},"transform":[{"filter":"datum.panel === 'E2' && isValid(datum.lo)"}],
      "mark":{"type":"tick","orient":"horizontal","size":9,"thickness":2},
      "encoding":{"x":{"field":"x","type":"quantitative"},"y":{"field":"lo","type":"quantitative"},"color":{"field":"series","type":"nominal"}}},
     {"data":{"name":"points"},"transform":[{"filter":"datum.panel === 'E2' && isValid(datum.lo)"}],
      "mark":{"type":"tick","orient":"horizontal","size":9,"thickness":2},
      "encoding":{"x":{"field":"x","type":"quantitative"},"y":{"field":"hi","type":"quantitative"},"color":{"field":"series","type":"nominal"}}},
     {"data":{"name":"points"},"transform":[{"filter":"datum.panel === 'E2'"}],
      "mark":{"type":"point","filled":true,"size":42,"opacity":1},
      "encoding":{"x":{"field":"x","type":"quantitative"},"y":{"field":"y","type":"quantitative"},"color":{"field":"series","type":"nominal"},
       "shape":{"field":"series","type":"nominal","scale":{"domain":["A549\u00a0\u00a0\u00a0IC50=22.40μmol/L","H1299 IC50=24.97μmol/L"],"range":["circle","square"]},
        "legend":{"orient":"none","legendX":6,"legendY":104,"title":null,"labelFontSize":10,"symbolSize":28,"labelOffset":5,"rowPadding":6,"padding":0}}}},
     {"data":{"values":[{}]},"mark":{"type":"text","fontSize":11,"fontWeight":"bold","align":"center","baseline":"middle"},
      "encoding":{"x":{"datum":0.84},"y":{"datum":103},"text":{"value":"DZNep"}}}
    ]},
   {"width":139,"height":137,
    "layer":[
     {"data":{"name":"curves"},"transform":[{"filter":"datum.panel === 'E3'"}],
      "mark":{"type":"line","interpolate":"monotone","strokeWidth":2.5},
      "encoding":{
       "x":{"field":"x","type":"quantitative","scale":{"domain":[0,2],"nice":false},"axis":{"title":"log concentration (μM/L)","values":[0,0.5,1,1.5,2],"tickCount":12,"format":".1f","labelOverlap":false,"labelFontSize":11,"titleFontSize":11.5,"titlePadding":6}},
       "y":{"field":"y","type":"quantitative","scale":{"domain":[0,100]},"axis":{"title":"Cell viability (%  Percentage)","values":[0,20,40,60,80,100],"tickCount":12,"labelOverlap":false,"labelFontSize":11,"titleFontSize":11,"titlePadding":5}},
       "color":{"field":"series","type":"nominal","scale":{"domain":["A549\u00a0\u00a0\u00a0IC50=23.62μmol/L","H1299 IC50=36.15μmol/L"],"range":["#e5382b","#1f9a5e"]},
        "legend":{"orient":"none","legendX":5,"legendY":101,"title":null,"labelFontSize":10,"symbolSize":28,"labelOffset":5,"rowPadding":6,"padding":0}}}},
     {"data":{"name":"points"},"transform":[{"filter":"datum.panel === 'E3' && isValid(datum.lo)"}],
      "mark":{"type":"rule","strokeWidth":2},
      "encoding":{"x":{"field":"x","type":"quantitative"},"y":{"field":"lo","type":"quantitative"},"y2":{"field":"hi"},"color":{"field":"series","type":"nominal"}}},
     {"data":{"name":"points"},"transform":[{"filter":"datum.panel === 'E3' && isValid(datum.lo)"}],
      "mark":{"type":"tick","orient":"horizontal","size":9,"thickness":2},
      "encoding":{"x":{"field":"x","type":"quantitative"},"y":{"field":"lo","type":"quantitative"},"color":{"field":"series","type":"nominal"}}},
     {"data":{"name":"points"},"transform":[{"filter":"datum.panel === 'E3' && isValid(datum.lo)"}],
      "mark":{"type":"tick","orient":"horizontal","size":9,"thickness":2},
      "encoding":{"x":{"field":"x","type":"quantitative"},"y":{"field":"hi","type":"quantitative"},"color":{"field":"series","type":"nominal"}}},
     {"data":{"name":"points"},"transform":[{"filter":"datum.panel === 'E3'"}],
      "mark":{"type":"point","filled":true,"size":42,"opacity":1},
      "encoding":{"x":{"field":"x","type":"quantitative"},"y":{"field":"y","type":"quantitative"},"color":{"field":"series","type":"nominal"},
       "shape":{"field":"series","type":"nominal","scale":{"domain":["A549\u00a0\u00a0\u00a0IC50=23.62μmol/L","H1299 IC50=36.15μmol/L"],"range":["circle","square"]},
        "legend":{"orient":"none","legendX":5,"legendY":101,"title":null,"labelFontSize":10,"symbolSize":28,"labelOffset":5,"rowPadding":6,"padding":0}}}},
     {"data":{"values":[{}]},"mark":{"type":"text","fontSize":11,"fontWeight":"bold","align":"center","baseline":"middle"},
      "encoding":{"x":{"datum":1.0},"y":{"datum":104.5},"text":{"value":"gefitinib"}}}
    ]}
  ]}
 ]}
]
}
